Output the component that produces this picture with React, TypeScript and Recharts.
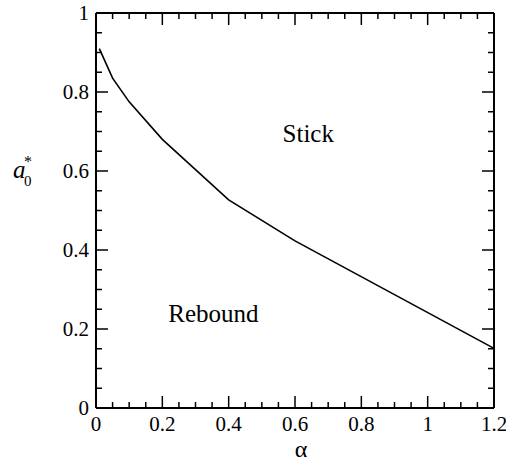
import { LineChart, Line, XAxis, YAxis, ReferenceDot } from "recharts";

const alphaValues = [0.01, 0.05, 0.1, 0.2, 0.4, 0.6, 1.2];
const a0Values = [0.91, 0.835, 0.775, 0.68, 0.527, 0.423, 0.151];

const xMajorTicks = [0, 0.2, 0.4, 0.6, 0.8, 1, 1.2];
const xAllTicks = [0, 0.05, 0.1, 0.15, 0.2, 0.25, 0.3, 0.35, 0.4, 0.45, 0.5, 0.55, 0.6, 0.65, 0.7, 0.75, 0.8, 0.85, 0.9, 0.95, 1, 1.05, 1.1, 1.15, 1.2];
const yMajorTicks = [0, 0.2, 0.4, 0.6, 0.8, 1];
const yAllTicks = [0, 0.05, 0.1, 0.15, 0.2, 0.25, 0.3, 0.35, 0.4, 0.45, 0.5, 0.55, 0.6, 0.65, 0.7, 0.75, 0.8, 0.85, 0.9, 0.95, 1];

const regionLabels = ["Stick", "Rebound"];
const regionX = [0.64, 0.354];
const regionY = [0.674, 0.218];

const data = alphaValues.map((alpha, i) => ({ alpha, a0: a0Values[i] }));

const FONT = '"Times New Roman", "Liberation Serif", Times, "DejaVu Serif", serif';
const txt = { fontFamily: FONT };
const MAJOR = 12;
const MINOR = 6;

const isMajor = (v: number, majors: number[]) => majors.some((m) => Math.abs(m - v) < 1e-6);

function makeTick(side: "bottom" | "top" | "left" | "right", majors: number[], showLabel: boolean) {
  return (props: any) => {
    const { x, y, payload } = props;
    const v = payload.value as number;
    const len = isMajor(v, majors) ? MAJOR : MINOR;
    let line;
    if (side === "bottom") line = <line x1={x} y1={y} x2={x} y2={y - len} />;
    else if (side === "top") line = <line x1={x} y1={y} x2={x} y2={y + len} />;
    else if (side === "left") line = <line x1={x} y1={y} x2={x + len} y2={y} />;
    else line = <line x1={x} y1={y} x2={x - len} y2={y} />;
    let label = null;
    if (showLabel && isMajor(v, majors)) {
      if (side === "bottom")
        label = (
          <text x={x} y={y + 23} textAnchor="middle" fontSize={21} style={txt} fill="#000">
            {String(v)}
          </text>
        );
      else if (side === "left")
        label = (
          <text x={x - 7} y={y + 7} textAnchor="end" fontSize={21} style={txt} fill="#000">
            {String(v)}
          </text>
        );
    }
    return (
      <g stroke="#000" strokeWidth={1.5}>
        {line}
        <g stroke="none">{label}</g>
      </g>
    );
  };
}

export default function App() {
  return (
    <div style={{ position: "absolute", left: 0, top: 0, width: 506, height: 464, background: "#fff", fontFamily: FONT }}>
      <LineChart width={506} height={464} data={data} margin={{ top: 12, right: 11, left: 0, bottom: 0 }}>
        <XAxis
          xAxisId="b"
          dataKey="alpha"
          type="number"
          domain={[0, 1.2]}
          ticks={xAllTicks}
          interval={0}
          orientation="bottom"
          height={56}
          tickLine={false}
          tickSize={0}
          tickMargin={0}
          axisLine={{ stroke: "#000", strokeWidth: 2 }}
          tick={makeTick("bottom", xMajorTicks, true)}
          label={{
            content: (p: any) => (
              <text x={p.viewBox.x + p.viewBox.width / 2 + 6} y={457} textAnchor="middle" fontSize={24} style={txt} fill="#000">
                α
              </text>
            ),
          }}
        />
        <XAxis
          xAxisId="t"
          dataKey="alpha"
          type="number"
          domain={[0, 1.2]}
          ticks={xAllTicks}
          interval={0}
          orientation="top"
          height={1}
          tickLine={false}
          tickSize={0}
          tickMargin={0}
          axisLine={{ stroke: "#000", strokeWidth: 2 }}
          tick={makeTick("top", xMajorTicks, false)}
        />
        <YAxis
          yAxisId="l"
          type="number"
          domain={[0, 1]}
          ticks={yAllTicks}
          interval={0}
          orientation="left"
          width={96}
          tickLine={false}
          tickSize={0}
          tickMargin={0}
          axisLine={{ stroke: "#000", strokeWidth: 2 }}
          tick={makeTick("left", yMajorTicks, true)}
          label={{
            content: (p: any) => {
              const base = p.viewBox.y + 165;
              return (
                <g style={txt} fill="#000">
                  <text x={13} y={base} fontSize={25} fontStyle="italic" style={txt}>a</text>
                  <text x={24} y={base + 8} fontSize={15} style={txt}>0</text>
                  <text x={24} y={base - 11} fontSize={16} style={txt}>*</text>
                </g>
              );
            },
          }}
        />
        <YAxis
          yAxisId="r"
          type="number"
          domain={[0, 1]}
          ticks={yAllTicks}
          interval={0}
          orientation="right"
          width={1}
          tickLine={false}
          tickSize={0}
          tickMargin={0}
          axisLine={{ stroke: "#000", strokeWidth: 2 }}
          tick={makeTick("right", yMajorTicks, false)}
        />
        <Line
          xAxisId="t"
          yAxisId="r"
          type="linear"
          dataKey="a0"
          stroke="none"
          dot={false}
          activeDot={false}
          isAnimationActive={false}
        />
        <Line
          xAxisId="b"
          yAxisId="l"
          type="linear"
          dataKey="a0"
          stroke="#000"
          strokeWidth={1.6}
          dot={false}
          isAnimationActive={false}
        />
        {regionLabels.map((label, i) => (
          <ReferenceDot
            key={label}
            xAxisId="b"
            yAxisId="l"
            x={regionX[i]}
            y={regionY[i]}
            r={0}
            shape={(p: any) => (
              <text x={p.cx} y={p.cy} textAnchor="middle" fontSize={25} style={txt} fill="#000">
                {label}
              </text>
            )}
          />
        ))}
      </LineChart>
    </div>
  );
}
